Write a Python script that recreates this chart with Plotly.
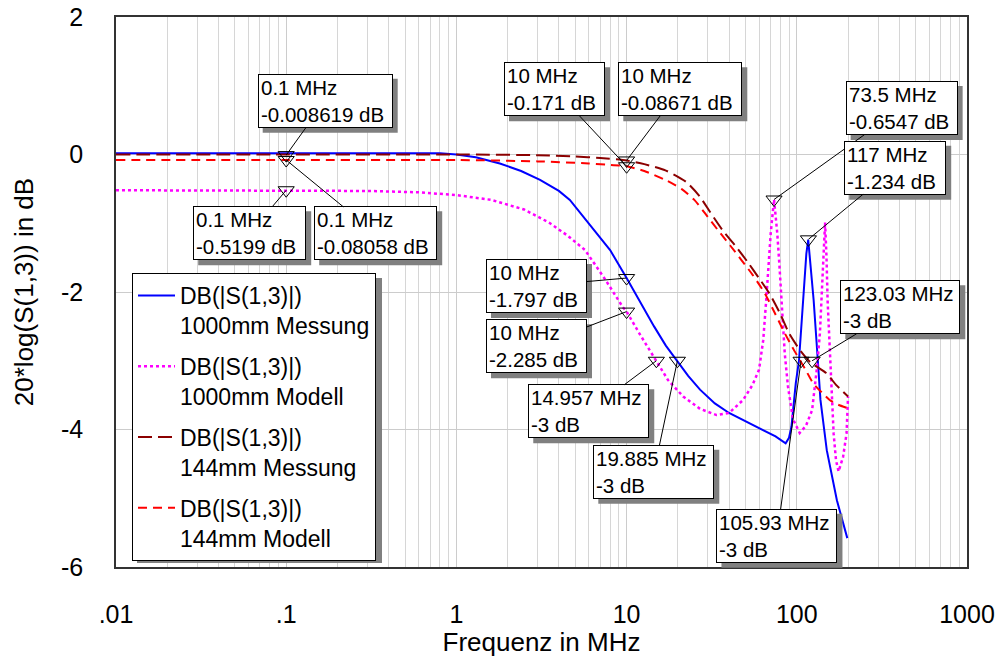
import math
import plotly.graph_objects as go

# ---------------- data ----------------
freq_1000_mess = [0.01, 0.05, 0.2, 0.5, 0.8, 1.0, 1.3, 1.8, 2.4, 3.1, 4.0, 4.64, 6.0, 8.0, 10, 12,
                  14.5, 17, 19.885, 23, 27, 33, 40, 53, 65, 75, 86, 90, 93, 98.6, 103, 109, 113.8,
                  116.7, 121, 125.6, 131.6, 137.7, 150, 172, 198]
db_1000_mess = [0.02, 0.02, 0.02, 0.03, 0.02, 0.0, -0.04, -0.13, -0.24, -0.37, -0.53, -0.66, -1.0,
                -1.39, -1.797, -2.15, -2.5, -2.78, -3.0, -3.22, -3.42, -3.62, -3.76, -3.91, -4.02,
                -4.1, -4.2, -4.12, -3.96, -3.33, -3.0, -2.12, -1.44, -1.24, -1.63, -2.12, -2.84,
                -3.57, -4.3, -5.03, -5.58]

freq_1000_mod = [0.01, 0.1, 0.3, 0.6, 1.0, 1.6, 2.5, 3.5, 4.5, 5.7, 7.5, 9.5, 10, 12, 13.7, 14.957,
                 17.5, 21.5, 27, 33.8, 40, 48.4, 55, 60, 63.5, 66.1, 68.5, 70.3, 73.5, 76.8, 79,
                 81.2, 85, 88.8, 95, 104, 113, 123, 131.5, 136.7, 140, 143.5, 146.6, 149.5, 151.7,
                 158, 164.6, 170, 176, 187, 196, 200]
db_1000_mod = [-0.52, -0.5199, -0.53, -0.55, -0.59, -0.66, -0.8, -0.99, -1.18, -1.39, -1.82, -2.22,
               -2.285, -2.62, -2.85, -3.0, -3.28, -3.52, -3.7, -3.79, -3.76, -3.57, -3.35, -3.13,
               -2.7, -2.12, -1.6, -1.14, -0.6547, -1.15, -1.6, -2.12, -2.9, -3.38, -3.85, -4.05,
               -3.95, -3.72, -3.09, -2.6, -2.12, -1.5, -0.99, -1.5, -2.12, -3.09, -4.06, -4.45,
               -4.61, -4.4, -4.06, -3.52]

freq_144_mess = [0.01, 0.1, 1, 3, 5, 7, 10, 12.7, 16.9, 22.4, 26.9, 31, 36.6, 43.3, 52, 60, 69,
                 79.6, 90, 104, 120, 149, 170, 200]
db_144_mess = [0.0, 0.0, 0.0, -0.01, -0.03, -0.05, -0.08671, -0.14, -0.23, -0.4, -0.61, -0.84,
               -1.1, -1.32, -1.58, -1.8, -2.02, -2.31, -2.6, -2.84, -3.02, -3.18, -3.35, -3.52]

freq_144_mod = [0.01, 0.1, 1, 3, 6, 8.4, 10, 12.7, 16.9, 21, 25, 29, 34.4, 40.5, 55, 64.9, 74.4,
                85, 97, 112, 125, 140, 156, 175, 200]
db_144_mod = [-0.08, -0.08058, -0.08, -0.1, -0.13, -0.155, -0.171, -0.24, -0.37, -0.5, -0.66,
              -0.86, -1.1, -1.32, -1.75, -2.02, -2.31, -2.6, -2.86, -3.12, -3.33, -3.46, -3.57,
              -3.64, -3.69]

series_names = ["DB(|S(1,3)|)<br>1000mm Messung", "DB(|S(1,3)|)<br>1000mm Modell",
                "DB(|S(1,3)|)<br>144mm Messung", "DB(|S(1,3)|)<br>144mm Modell"]

marker_freq = [0.1, 0.1, 0.1, 10, 10, 73.5, 117, 123.03, 105.93, 10, 10, 14.957, 19.885]
marker_db = [-0.008619, -0.5199, -0.08058, -0.171, -0.08671, -0.6547, -1.234, -3, -3, -1.797,
             -2.285, -3, -3]

x_tick_vals = [0.01, 0.1, 1, 10, 100, 1000]
x_tick_text = [".01", ".1", "1", "10", "100", "1000"]
y_tick_vals = [-6, -4, -2, 0, 2]
y_tick_text = ["-6", "-4", "-2", "0", "2"]

# ---------------- layout / style (not data) ----------------
label_ax = [39, -36.5, 89.5, -72.1, 53.7, 127.6, 86.8, 88.2, -24.1, -90.1, -90.1, -67.6, -23.6]
label_ay = [-54.3, 43.1, 73.3, -77.1, -71.3, -91.5, -71.6, -53.5, 175, 8, 34.7, 50.6, 111]
label_w = [135, 113, 123, 101, 124, 112, 102, 120, 121, 101, 101, 121, 121]
LABEL_H = 54
SHADOW = 5
SHADOW_COLOR = "#808080"
X_RANGE = [-2, 3]      # log10 of MHz
Y_RANGE = [-6, 2]
L, R, T, B = 116, 967, 17, 567   # plot area in pixels

FONT = "Arial, 'Liberation Sans', sans-serif"

def px(xp):
    return (xp - L) / (R - L)

def py(yp):
    return (B - yp) / (B - T)

def data_to_paper(f, v):
    xf = (math.log10(f) - X_RANGE[0]) / (X_RANGE[1] - X_RANGE[0])
    yf = (v - Y_RANGE[0]) / (Y_RANGE[1] - Y_RANGE[0])
    return xf, yf

fig = go.Figure()

styles = [
    dict(color="#0000ff", width=2, dash="solid"),
    dict(color="#ff00ff", width=2.5, dash="3px,3px"),
    dict(color="#8b0000", width=2, dash="14px,6px", shape="spline", smoothing=0.6),
    dict(color="#ff0000", width=2, dash="9px,6px", shape="spline", smoothing=0.6),
]
series = [(freq_1000_mess, db_1000_mess), (freq_1000_mod, db_1000_mod),
          (freq_144_mess, db_144_mess), (freq_144_mod, db_144_mod)]
for i, ((fx, fy), name, st) in enumerate(zip(series, series_names, styles)):
    fig.add_trace(go.Scatter(x=fx, y=fy, mode="lines", name=name, line=st,
                             legendgroup=f"g{i}"))

fig.add_trace(go.Scatter(x=marker_freq, y=marker_db, mode="markers", showlegend=False,
                         marker=dict(symbol="triangle-down-open", size=14, color="black",
                                     line=dict(width=1, color="black")),
                         hoverinfo="skip"))

labels = [f"{f:g} MHz<br>{v:g} dB" for f, v in zip(marker_freq, marker_db)]

PAD = 2
W, H = R - L, B - T
# drop shadows of the marker labels
for f, v, ax, ay, w in zip(marker_freq, marker_db, label_ax, label_ay, label_w):
    xf, yf = data_to_paper(f, v)
    cx = xf + (ax + SHADOW) / W
    cy = yf - (ay + SHADOW) / H
    fig.add_shape(type="rect", xref="paper", yref="paper",
                  x0=cx - w / 2 / W, x1=cx + w / 2 / W,
                  y0=cy - LABEL_H / 2 / H, y1=cy + LABEL_H / 2 / H,
                  fillcolor=SHADOW_COLOR, line=dict(width=0), layer="above")

for f, v, t, ax, ay, w in zip(marker_freq, marker_db, labels, label_ax, label_ay, label_w):
    fig.add_annotation(x=math.log10(f), y=v, xref="x", yref="y", text=t, showarrow=True,
                       ax=ax, ay=ay, arrowcolor="black", arrowwidth=1, arrowhead=0,
                       standoff=0, align="left",
                       width=w - 2 * PAD - 2, height=LABEL_H - 2 * PAD - 2,
                       font=dict(family=FONT, size=20.5, color="black"),
                       bgcolor="white", bordercolor="black", borderwidth=1, borderpad=PAD)

# legend drop shadow
fig.add_shape(type="rect", xref="paper", yref="paper", x0=px(137), x1=px(382), y0=py(563),
              y1=py(278), fillcolor=SHADOW_COLOR, line=dict(width=0), layer="above")

fig.update_layout(
    width=998, height=657,
    margin=dict(l=L, r=998 - R, t=T, b=657 - B, autoexpand=False),
    paper_bgcolor="white", plot_bgcolor="white",
    font=dict(family=FONT, color="black"),
    showlegend=True,
    legend=dict(x=px(132), y=py(273), xanchor="left", yanchor="top",
                bgcolor="white", bordercolor="black", borderwidth=1,
                font=dict(family=FONT, size=23, color="black"),
                valign="top", traceorder="grouped", tracegroupgap=8, itemwidth=37),
    xaxis=dict(type="log", range=X_RANGE, tickvals=x_tick_vals, ticktext=x_tick_text,
               showgrid=True, gridcolor="#cccccc", gridwidth=1, automargin=False,
               minor=dict(dtick="D1", showgrid=True, gridcolor="#d6d6d6", gridwidth=1, ticks=""),
               showline=True, mirror=True, linecolor="#333333", linewidth=1.5,
               ticks="", ticklabelstandoff=24,
               tickfont=dict(family=FONT, size=25),
               title=dict(text="Frequenz in MHz", font=dict(family=FONT, size=26), standoff=4),
               zeroline=False),
    yaxis=dict(range=Y_RANGE, tickvals=y_tick_vals, ticktext=y_tick_text,
               showgrid=True, gridcolor="#cccccc", gridwidth=1, automargin=False,
               showline=True, mirror=True, linecolor="#333333", linewidth=1.5,
               ticks="", ticklabelstandoff=26,
               tickfont=dict(family=FONT, size=25),
               title=dict(text="20*log(S(1,3)) in dB", font=dict(family=FONT, size=26), standoff=20),
               zeroline=False),
)

fig.write_html("out.html")
